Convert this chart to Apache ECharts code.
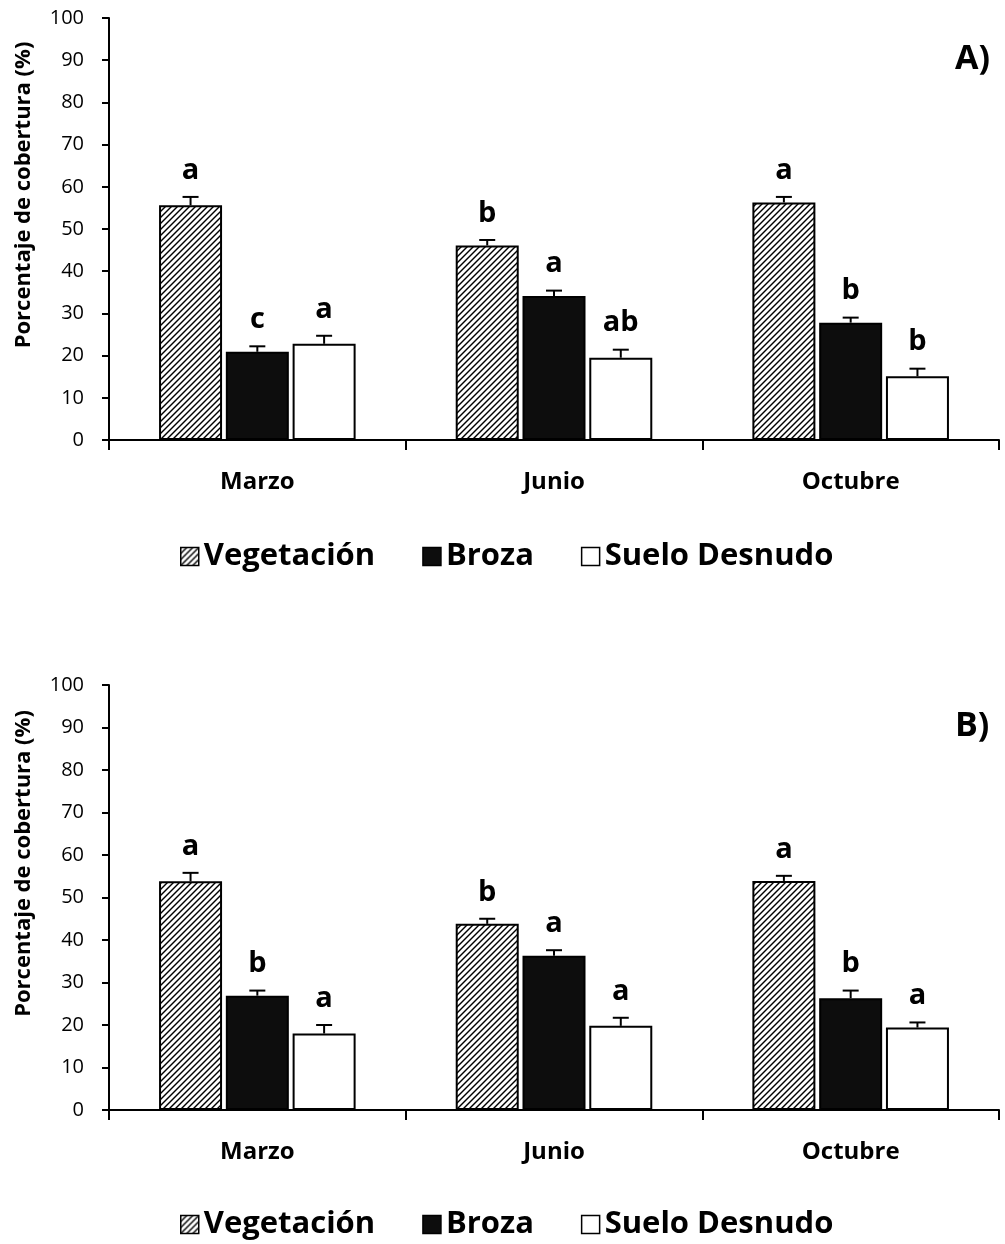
<!DOCTYPE html>
<html>
<head>
<meta charset="utf-8">
<script src="https://cdn.jsdelivr.net/npm/echarts@6/dist/echarts.min.js"></script>
<style>
  html, body { margin: 0; padding: 0; background: #fff; }
  #chart { width: 1005px; height: 1244px; }
</style>
</head>
<body>
<div id="chart"></div>
<script>
// ---------- DATA ----------
const categories = ['Marzo', 'Junio', 'Octubre'];
const seriesNames = ['Vegetación', 'Broza', 'Suelo Desnudo'];
const yTickMin = 0, yTickMax = 100, yTickStep = 10;

// Panel A
const vegA = [55.6, 46.1, 56.3];
const vegErrA = [2.0, 1.3, 1.3];
const brozaA = [20.9, 34.1, 27.8];
const brozaErrA = [1.3, 1.3, 1.2];
const sueloA = [22.8, 19.5, 15.1];
const sueloErrA = [1.9, 1.9, 1.8];
const vegLetA = ['a', 'b', 'a'];
const brozaLetA = ['c', 'a', 'b'];
const sueloLetA = ['a', 'ab', 'b'];

// Panel B
const vegB = [53.8, 43.8, 53.9];
const vegErrB = [2.0, 1.2, 1.2];
const brozaB = [26.9, 36.3, 26.3];
const brozaErrB = [1.2, 1.3, 1.8];
const sueloB = [18.0, 19.8, 19.4];
const sueloErrB = [2.0, 1.9, 1.2];
const vegLetB = ['a', 'b', 'a'];
const brozaLetB = ['b', 'a', 'b'];
const sueloLetB = ['a', 'a', 'a'];

const panelLabels = ['A)', 'B)'];
const yAxisName = 'Porcentaje de cobertura (%)';

// ---------- STYLE ----------
const FONT = '"Open Sans", Lato, sans-serif';
const BAR_W = 63;
const BAR_GAP = 0.06;
const BAR_STEP = BAR_W * (1 + BAR_GAP);

function hatch() {
  const c = document.createElement('canvas');
  c.width = 6; c.height = 6;
  const ctx = c.getContext('2d');
  ctx.fillStyle = '#fff'; ctx.fillRect(0, 0, 6, 6);
  ctx.strokeStyle = '#000'; ctx.lineWidth = 1.4;
  ctx.beginPath(); ctx.moveTo(-1, 7); ctx.lineTo(7, -1); ctx.stroke();
  ctx.beginPath(); ctx.moveTo(-1, 1); ctx.lineTo(1, -1); ctx.stroke();
  ctx.beginPath(); ctx.moveTo(5, 7); ctx.lineTo(7, 5); ctx.stroke();
  return { image: c, repeat: 'repeat' };
}
const fills = [hatch(), '#0d0d0d', '#ffffff'];

const panels = [
  { values: [vegA, brozaA, sueloA], errs: [vegErrA, brozaErrA, sueloErrA], letters: [vegLetA, brozaLetA, sueloLetA] },
  { values: [vegB, brozaB, sueloB], errs: [vegErrB, brozaErrB, sueloErrB], letters: [vegLetB, brozaLetB, sueloLetB] }
];

const gridTops = [18, 685];
const gridHeights = [422, 425];
const legendTops = [541, 1209];

const grids = [], xAxes = [], yAxes = [], series = [], legends = [], titles = [];

panels.forEach((p, k) => {
  grids.push({ left: 109, right: 6, top: gridTops[k], height: gridHeights[k] });
  xAxes.push({
    type: 'category', gridIndex: k, data: categories,
    axisLine: { lineStyle: { color: '#000', width: 2 } },
    axisTick: { show: true, length: 10, lineStyle: { color: '#000', width: 2 } },
    axisLabel: { color: '#000', fontSize: 24, fontWeight: 'bold', fontFamily: FONT, margin: 30 },
    splitLine: { show: false }
  });
  yAxes.push({
    type: 'value', gridIndex: k, min: yTickMin, max: yTickMax, interval: yTickStep,
    name: yAxisName, nameLocation: 'middle', nameGap: 74,
    nameTextStyle: { color: '#000', fontSize: 22, fontWeight: 'bold', fontFamily: FONT, padding: [0, 0, 0, 68] },
    axisLine: { show: true, lineStyle: { color: '#000', width: 2 } },
    axisTick: { show: true, length: 7, lineStyle: { color: '#000', width: 2 } },
    axisLabel: { color: '#000', fontSize: 20, fontFamily: FONT, margin: 25 },
    splitLine: { show: false }
  });
  seriesNames.forEach((name, s) => {
    series.push({
      type: 'bar', name, xAxisIndex: k, yAxisIndex: k,
      data: p.values[s],
      barWidth: BAR_W, barGap: (BAR_GAP * 100) + '%',
      itemStyle: { color: fills[s], borderColor: '#000', borderWidth: 2 },
      emphasis: { disabled: true }, silent: true
    });
  });
  seriesNames.forEach((name, s) => {
    series.push({
      type: 'custom', xAxisIndex: k, yAxisIndex: k, silent: true, z: 10, clip: false,
      data: p.values[s].map((v, i) => [i, v, p.errs[s][i]]),
      renderItem: function (params, api) {
        const i = api.value(0), v = api.value(1), e = api.value(2);
        const base = api.coord([i, v]);
        const top = api.coord([i, v + e]);
        const x = base[0] + (s - 1) * BAR_STEP;
        return {
          type: 'group', children: [
            { type: 'line', shape: { x1: x, y1: base[1], x2: x, y2: top[1] }, style: { stroke: '#000', lineWidth: 2 } },
            { type: 'line', shape: { x1: x - 8, y1: top[1], x2: x + 8, y2: top[1] }, style: { stroke: '#000', lineWidth: 2 } },
            { type: 'text', x: x, y: top[1] - 12,
              style: { text: p.letters[s][i], fill: '#000', font: 'bold 29px ' + FONT, align: 'center', verticalAlign: 'bottom' } }
          ]
        };
      }
    });
  });
  legends.push({
    data: seriesNames, top: legendTops[k], left: 180, padding: 0,
    icon: 'rect', itemWidth: 18, itemHeight: 18, itemGap: 47,
    selectedMode: false,
    itemStyle: { borderColor: '#000', borderWidth: 1.5 },
    textStyle: { color: '#000', fontSize: 31, fontWeight: 'bold', fontFamily: FONT }
  });
  titles.push({
    text: panelLabels[k], left: 950, top: gridTops[k] + 19,
    textStyle: { color: '#000', fontSize: 34, fontWeight: 'bold', fontFamily: FONT }
  });
});

const chart = echarts.init(document.getElementById('chart'), null, { renderer: 'canvas' });
chart.setOption({
  animation: false,
  backgroundColor: '#fff',
  title: titles,
  grid: grids,
  xAxis: xAxes,
  yAxis: yAxes,
  legend: legends,
  series: series
});
</script>
</body>
</html>
